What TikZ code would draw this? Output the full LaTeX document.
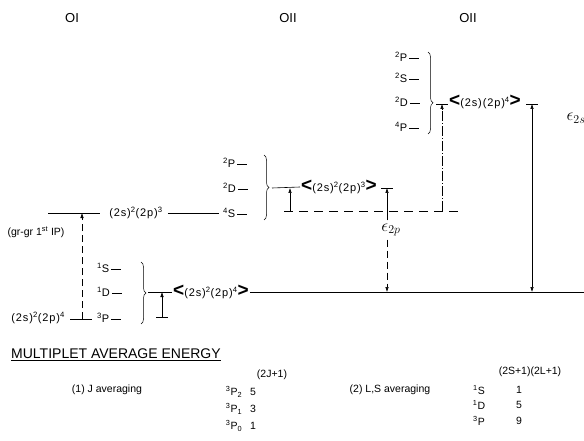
\documentclass[tikz,border=0pt]{standalone}
\usepackage{fontspec}
\setmainfont{Liberation Sans}
\newfontfamily\spaced[LetterSpace=8]{Liberation Sans}
\usetikzlibrary{arrows.meta,positioning,decorations.pathreplacing}
\newcommand{\avgbr}[1]{{\fontsize{19}{19}\selectfont\bfseries<}#1{\fontsize{19}{19}\selectfont\bfseries>}}
\newcommand{\lvlrule}{\,\rule[0.5ex]{10pt}{0.7pt}}

\tikzset{
  head/.style={font=\fontsize{13}{14}\selectfont},
  txt/.style={font=\spaced\fontsize{11}{12}\selectfont,inner sep=1pt},
  term/.style={txt,anchor=west},
  tbl/.style={font=\fontsize{10.5}{12}\selectfont,inner sep=1pt},
  lvl/.style={line width=0.6pt},
  up/.style={-{Latex[length=5pt,width=3.5pt]},line width=0.5pt},
  gap/.style={up,dash pattern=on 7pt off 4pt},
  cbrace/.style={decorate,decoration={brace,amplitude=5pt},line width=0.5pt},
}

\begin{document}
\begin{tikzpicture}[x=1pt,y=-1pt]
  \useasboundingbox (0,0) rectangle (584,441);
  % column headings
  \foreach \t/\x [count=\i] in {OI/72,OII/288,OII/468}
    \node[head] (h\i) at (\x,18) {\t};

  % multiplet terms
  \foreach \m/\l/\y [count=\i] in {1/S/268,1/D/292,3/P/318}
    \node[term] (a\i) at (96,\y) {\textsuperscript{\m}\l\lvlrule};
  \foreach \m/\l/\y [count=\i] in {2/P/163,2/D/188,4/S/213}
    \node[term] (b\i) at (222,\y) {\textsuperscript{\m}\l\lvlrule};
  \foreach \m/\l/\y [count=\i] in {2/P/57,2/S/78,2/D/102,4/P/127}
    \node[term] (c\i) at (394,\y) {\textsuperscript{\m}\l\lvlrule};

  \draw[cbrace] (141,262) -- (141,324);
  \draw[cbrace] (264,155) -- (264,220);
  \draw[cbrace,decoration={aspect=0.62}] (428,52) -- (428,134);

  % OI ground and ionisation
  \node[txt,anchor=east] (gs4) at (66,318) {(2s)\textsuperscript{2}(2p)\textsuperscript{4}};
  \coordinate (gA) at (82,319);
  \coordinate (gB) at (82,213);
  \draw[lvl] (70,319) -- (92,319);
  \node[txt] (cf3) at (136,213) {(2s)\textsuperscript{2}(2p)\textsuperscript{3}};
  \draw[lvl] (48,213) -- ([xshift=-8pt]cf3.west);
  \draw[lvl] ([xshift=4pt]cf3.east) -- ([xshift=-3pt]b3.west);
  \draw[gap] (gA) -- (gB);
  \node[tbl] (ip) at (36,232) {(gr-gr 1\textsuperscript{st} IP)};

  % OI average
  \node[txt,anchor=west] (m4) at (172,292) {\avgbr{(2s)\textsuperscript{2}(2p)\textsuperscript{4}}};
  \coordinate (rim) at (584,292);
  \draw[lvl] (148,292) -- (m4.west);
  \draw[lvl] (m4.east) -- (rim);
  \draw[lvl] (156,317) -- (168,317);
  \draw[up] (162,317) -- (162,292);

  % OII average
  \node[txt,anchor=west] (m3) at (300,187) {\avgbr{(2s)\textsuperscript{2}(2p)\textsuperscript{3}}};
  \coordinate (t3) at (387,188);
  \draw[lvl] (272,188) -- (m3.west);
  \draw[lvl] ([xshift=-6pt]t3) -- ([xshift=6pt]t3);
  \draw[lvl,dash pattern=on 9pt off 6pt] (284,211) -- (462,211);
  \draw[up] (290,211) -- (290,188);
  \node (e2p) at (391,230) {\LARGE$\epsilon_{2p}$};
  \draw[up] (e2p.north -| t3) -- (t3);
  \draw[gap] (e2p.south -| t3) -- (t3 |- rim);

  % OII excited average
  \node[txt,anchor=west] (m2) at (448,102) {\avgbr{(2s)(2p)\textsuperscript{4}}};
  \coordinate (t2l) at (442,104);
  \coordinate (t2r) at (532,104);
  \draw[lvl] ([xshift=-6pt]t2l) -- ([xshift=6pt]t2l);
  \draw[lvl] ([xshift=-6pt]t2r) -- ([xshift=6pt]t2r);
  \draw[up,dash pattern=on 10pt off 2pt on 1pt off 2pt] (442,211) -- (t2l);
  \draw[{Latex[length=5pt,width=3.5pt]}-{Latex[length=5pt,width=3.5pt]},line width=0.5pt] (t2r) -- (t2r |- rim);
  \node (e2s) at (576,118) {\LARGE$\epsilon_{2s}$};

  % averaging table
  \node[anchor=west,font=\fontsize{14}{15}\selectfont,inner sep=1pt] (mae) at (10,355) {\underline{MULTIPLET AVERAGE ENERGY}};
  \node[tbl] (jhead) at (272,375) {(2J+1)};
  \node[tbl] (javg) at (107,390) {(1) J averaging};
  \foreach \j/\g/\y [count=\i] in {2/5/392,1/3/409,0/1/426} {
    \node[tbl] (jt\i) at (234,\y) {\textsuperscript{3}P\textsubscript{\j}};
    \node[tbl] (jg\i) at (253,\y) {\g};
  }
  \node[tbl] (lhead) at (530,372) {(2S+1)(2L+1)};
  \node[tbl] (lavg) at (390,390) {(2) L,S averaging};
  \foreach \m/\l/\g/\y [count=\i] in {1/S/1/390,1/D/5/405,3/P/9/421} {
    \node[tbl] (lt\i) at (479,\y) {\textsuperscript{\m}\l};
    \node[tbl] (lg\i) at (519,\y) {\g};
  }
\end{tikzpicture}
\end{document}
